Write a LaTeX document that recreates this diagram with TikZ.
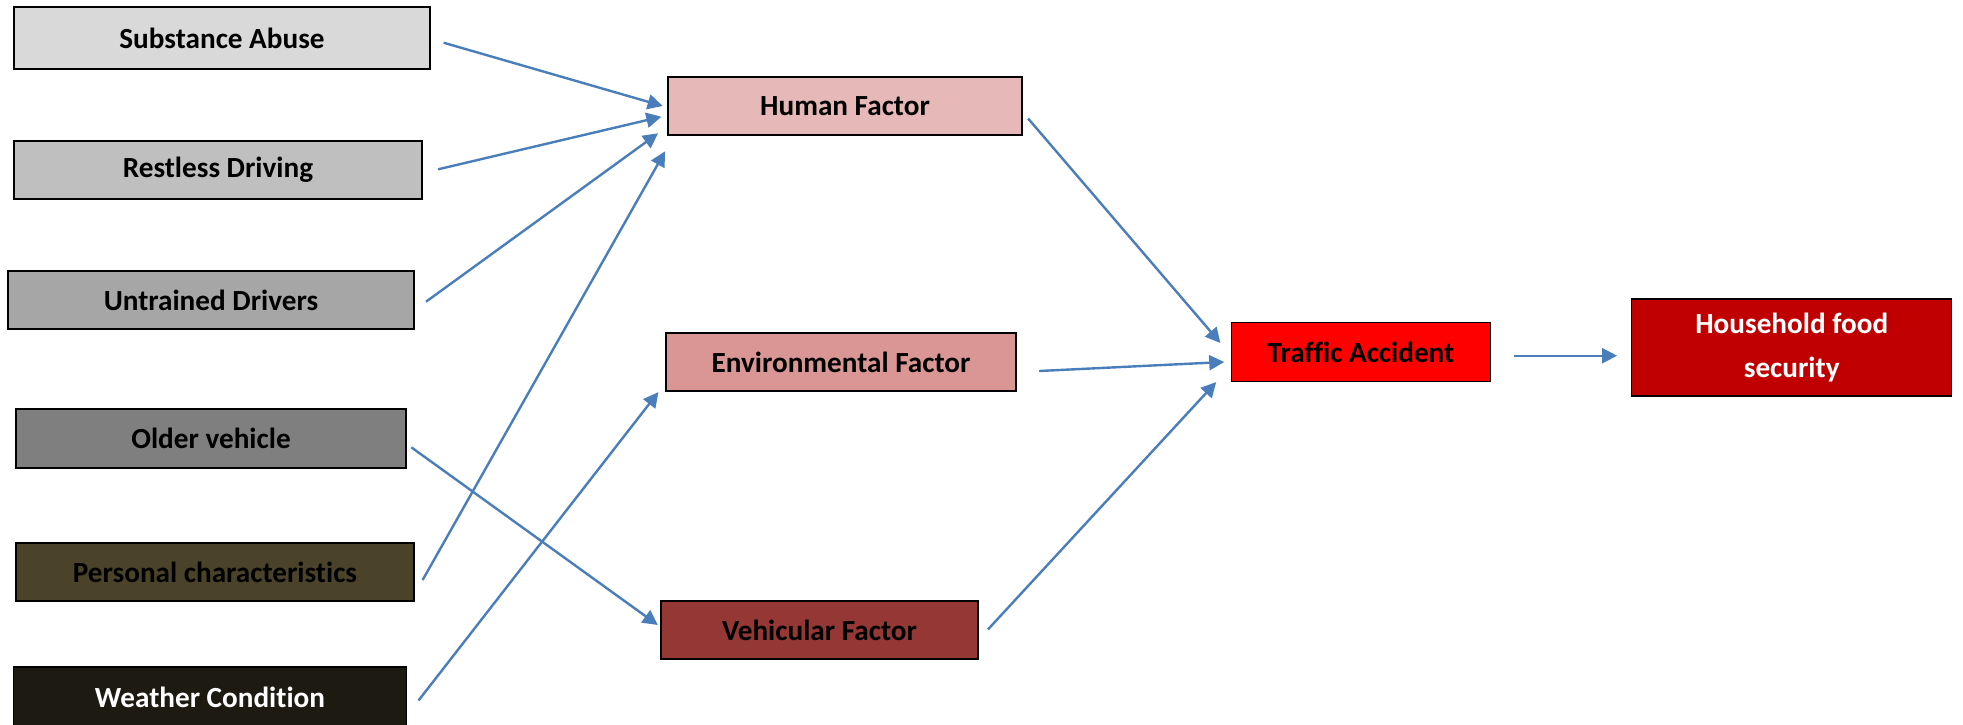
\documentclass[tikz,border=0pt]{standalone}
\usepackage{fontspec}
\setmainfont{Carlito}[Ligatures=NoCommon]
\usetikzlibrary{arrows.meta}

\definecolor{abuse}{HTML}{D9D9D9}
\definecolor{restless}{HTML}{BFBFBF}
\definecolor{untrained}{HTML}{A6A6A6}
\definecolor{older}{HTML}{7F7F7F}
\definecolor{personal}{HTML}{4A432A}
\definecolor{weather}{HTML}{1D1B11}
\definecolor{human}{HTML}{E6B9B8}
\definecolor{environ}{HTML}{D99694}
\definecolor{vehicular}{HTML}{953735}
\definecolor{accident}{HTML}{FF0000}
\definecolor{food}{HTML}{C00000}
\definecolor{arrowblue}{HTML}{4A7EBB}

\tikzset{
	factor/.style={
		draw=black,
		line width=0.6pt,
		inner sep=0pt,
		align=center,
		font=\fontsize{14.6}{22}\selectfont\bfseries
	},
	every edge/.style={
		draw,
		-{Triangle[length=7.5pt,width=7.5pt]},
		line width=1.2pt,
		arrowblue
	}
}

\begin{document}
\begin{tikzpicture}[x=0.5pt,y=-0.5pt]
	\useasboundingbox (0,0) rectangle (1963,724);
	% causes
	\node[factor, fill=abuse, minimum width=208pt, minimum height=31pt] (sa) at (222,38) {Substance Abuse};
	\node[factor, fill=restless, minimum width=204pt, minimum height=29pt] (rd) at (218,170) {Restless Driving};
	\node[factor, fill=untrained, minimum width=203pt, minimum height=29pt] (ud) at (211,300) {Untrained Drivers};
	\node[factor, fill=older, minimum width=195pt, minimum height=29.5pt] (ov) at (211,438.5) {Older vehicle};
	\node[factor, fill=personal, minimum width=199pt, minimum height=29pt] (pc) at (215,572) {Personal characteristics};
	\node[factor, fill=weather, text=white, minimum width=196.5pt, minimum height=30pt] (wc) at (210,697) {Weather Condition};
	% factors
	\node[factor, fill=human, minimum width=177pt, minimum height=29pt] (hf) at (845,106) {Human Factor};
	\node[factor, fill=environ, minimum width=175pt, minimum height=29pt] (ef) at (841,362) {Environmental Factor};
	\node[factor, fill=vehicular, minimum width=158.5pt, minimum height=29pt] (vf) at (819.5,630) {Vehicular Factor};
	% outcome
	\node[factor, fill=accident, minimum width=129.5pt, minimum height=29.5pt] (ta) at (1361,352) {Traffic Accident};
	\node[factor, fill=food, text=white, minimum width=160pt, minimum height=48.5pt] (hs) at (1791.7,347.4) {Household food\\security};

	\draw ([shift={(13,4.7)}]sa.east) edge ([shift={(-4.7,0)}]hf.west)
		([shift={(15.5,-0.7)}]rd.east) edge ([shift={(-6,10.7)}]hf.west)
		([shift={(11.4,1.7)}]ud.east) edge ([shift={(-9.3,-2.3)}]hf.south west)
		([shift={(8,8)}]pc.east) edge ([shift={(-2.3,15.7)}]hf.south west)
		([shift={(4.7,8.8)}]ov.east) edge ([shift={(-2.6,-5)}]vf.west)
		([shift={(11.4,3.5)}]wc.east) edge ([shift={(-7,0.5)}]ef.south west)
		([shift={(5.5,12.5)}]hf.east) edge ([shift={(-10.5,-9)}]ta.west)
		([shift={(22.6,9)}]ef.east) edge ([shift={(-6.7,10)}]ta.west)
		([shift={(9.3,-0.5)}]vf.east) edge ([shift={(-14.7,0)}]ta.south west)
		([shift={(22.5,3.7)}]ta.east) edge ([shift={(-14,8.3)}]hs.west);
\end{tikzpicture}
\end{document}
